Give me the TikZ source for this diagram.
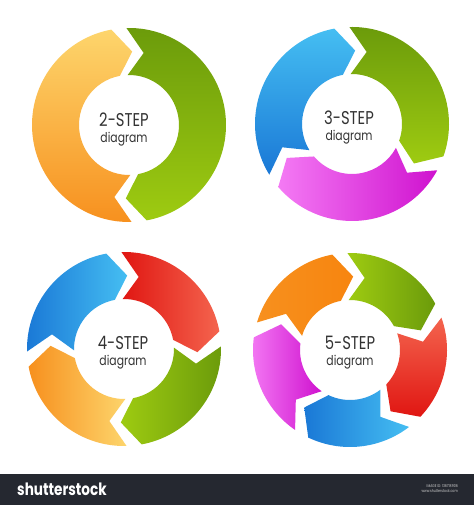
\documentclass[tikz,border=0pt]{standalone}
\usepackage{fontspec}
\newfontfamily\stepfont{Poppins}[FakeStretch=0.8]
\usetikzlibrary{positioning}

\definecolor{orangeA}{HTML}{FDD56C}
\definecolor{orangeB}{HTML}{F7901E}
\definecolor{orangeC}{HTML}{F7850F}
\definecolor{greenD}{HTML}{6B9B0B}
\definecolor{greenL}{HTML}{9ECB11}
\definecolor{blueL}{HTML}{45BEF2}
\definecolor{blueD}{HTML}{1A78D6}
\definecolor{pinkL}{HTML}{F47AF4}
\definecolor{pinkD}{HTML}{CF12CF}
\definecolor{redD}{HTML}{E01612}
\definecolor{redL}{HTML}{F4644E}
\definecolor{txtgray}{HTML}{333333}
\definecolor{barcol}{HTML}{252830}

% ring sizes (in px), chevron depth, half gap and shift (in degrees)
\def\rin{50}
\def\rout{97}
\def\rmid{73.5}
\def\dep{13}
\def\gap{4.5}
\def\sft{6}

% one arrow of the cycle, running clockwise from gap #1 to gap #2
\newcommand{\cycarrow}[3]{%
  \shade[#3] (#1-\gap+\sft:\rout) arc[start angle=#1-\gap+\sft, end angle=#2+\gap+\sft, radius=\rout]
    -- (#2+\gap+\sft-\dep:\rmid) -- (#2+\gap+\sft:\rin)
    arc[start angle=#2+\gap+\sft, end angle=#1-\gap+\sft, radius=\rin]
    -- (#1-\gap+\sft-\dep:\rmid) -- cycle;}

\tikzset{
  steptitle/.style={text=txtgray, font=\stepfont\fontsize{18.5}{18.5}\selectfont, inner sep=0pt},
  stepsub/.style={text=txtgray, font=\stepfont\fontsize{13.5}{13.5}\selectfont, inner sep=0pt}
}

\begin{document}
\begin{tikzpicture}[x=1pt, y=1pt]
	\useasboundingbox (0,0) rectangle (474,505);
	\fill[white] (0,0) rectangle (474,505);

	% 2-step
	\begin{scope}[shift={(129,380)}]
		\cycarrow{90}{-90}{top color=greenD, bottom color=greenL}
		\cycarrow{-90}{-270}{top color=orangeA, bottom color=orangeB}
		\node[steptitle] (title2) at (-5,5) {2-STEP};
		\node[stepsub, below=5pt of title2] (sub2) {diagram};
	\end{scope}

	% 3-step
	\begin{scope}[shift={(352,381)}]
		\cycarrow{210}{90}{top color=blueL, bottom color=blueD}
		\cycarrow{90}{-30}{top color=greenD, bottom color=greenL}
		\cycarrow{-30}{-150}{left color=pinkL, right color=pinkD}
		\node[steptitle] (title3) at (-3,6) {3-STEP};
		\node[stepsub, below=5pt of title3] (sub3) {diagram};
	\end{scope}

	% 4-step
	\begin{scope}[shift={(124,156)}]
		\cycarrow{180}{90}{left color=blueD, right color=blueL}
		\cycarrow{90}{0}{left color=redD, right color=redL}
		\cycarrow{0}{-90}{left color=greenL, right color=greenD}
		\cycarrow{-90}{-180}{left color=orangeB, right color=orangeA}
		\node[steptitle] (title4) at (-1,6) {4-STEP};
		\node[stepsub, below=5pt of title4] (sub4) {diagram};
	\end{scope}

	% 5-step
	\begin{scope}[shift={(350,155)}]
		\cycarrow{162}{90}{left color=orangeB, right color=orangeC}
		\cycarrow{90}{18}{left color=greenL, right color=greenD}
		\cycarrow{18}{-54}{top color=redL, bottom color=redD}
		\cycarrow{-54}{-126}{left color=blueD, right color=blueL}
		\cycarrow{-126}{-198}{left color=pinkL, right color=pinkD}
		\node[steptitle] (title5) at (0,7) {5-STEP};
		\node[stepsub, below=5pt of title5] (sub5) {diagram};
	\end{scope}

	% bottom bar
	\fill[barcol] (0,0) rectangle (474,31);
	\node[text=white, font=\stepfont\bfseries\fontsize{17}{17}\selectfont, anchor=west, inner sep=0pt] (brand) at (17,16) {shutterstock};
	\node[text=white!80!black, font=\stepfont\fontsize{4}{5}\selectfont, anchor=east, inner sep=0pt, align=right] (imgid) at (458,16) {IMAGE ID: 136718906\\www.shutterstock.com};
\end{tikzpicture}
\end{document}
